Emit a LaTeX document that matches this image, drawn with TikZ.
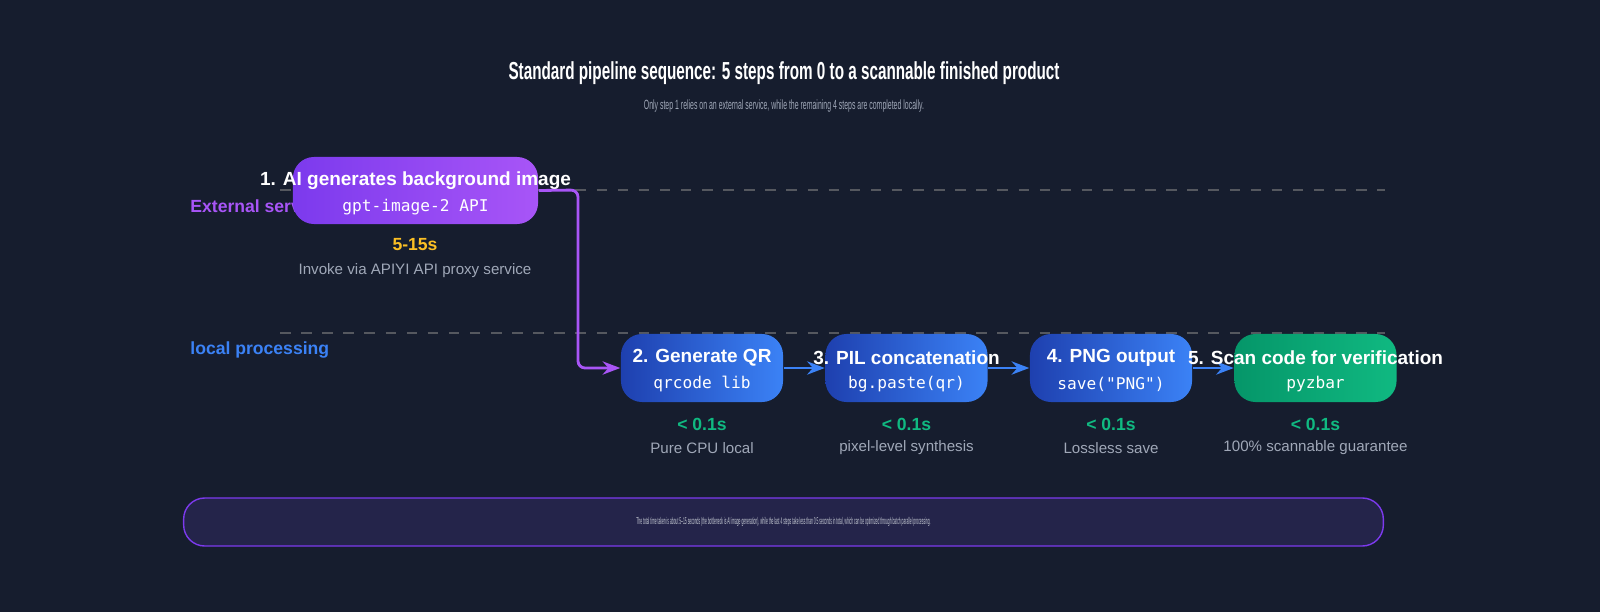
\documentclass[tikz,border=0pt]{standalone}
\usepackage{fontspec}
\setmainfont{Liberation Sans}
\setmonofont{DejaVu Sans Mono}
\usetikzlibrary{positioning,arrows.meta}
\definecolor{bgcol}{RGB}{22,29,46}
\definecolor{purpleA}{RGB}{124,58,237}
\definecolor{purpleB}{RGB}{168,85,247}
\definecolor{blueA}{RGB}{30,64,175}
\definecolor{blueB}{RGB}{59,130,246}
\definecolor{greenA}{RGB}{5,150,105}
\definecolor{greenB}{RGB}{16,185,129}
\definecolor{timecol}{RGB}{251,191,36}
\definecolor{greycol}{RGB}{160,168,184}
\definecolor{footfill}{RGB}{36,36,74}
\tikzset{
  stage/.style={rounded corners=6pt,minimum width=1.62cm,minimum height=0.68cm,
    left color=blueA,right color=blueB,draw=none},
  stagetitle/.style={text=white,font=\bfseries\fontsize{5.4}{6}\selectfont},
  stagecode/.style={text=white,font=\ttfamily\fontsize{4.6}{5}\selectfont},
  time/.style={text=greenB,font=\bfseries\fontsize{5}{6}\selectfont},
  desc/.style={text=greycol,font=\fontsize{4.3}{5}\selectfont},
  arrow/.style={thick,->,>={Stealth[length=5pt]},draw=blueB},
  lane/.style={dashed,draw=gray!60!bgcol}
}
\begin{document}
\begin{tikzpicture}[x=0.01cm,y=-0.01cm]
  % background
  \fill[bgcol] (0,0) rectangle (1600,612);
  \useasboundingbox (0,0) rectangle (1600,612);
  % heading
  \node[text=white,font=\bfseries\fontsize{7}{9}\selectfont] (title) at (784,73)
    {\scalebox{0.62}[1]{Standard pipeline sequence: 5 steps from 0 to a scannable finished product}};
  \node[text=greycol,font=\fontsize{3.8}{4}\selectfont] (subtitle) at (784,106)
    {\scalebox{0.52}[1]{Only step 1 relies on an external service, while the remaining 4 steps are completed locally.}};
  % lanes
  \draw[lane] (280,190) -- (1385,190);
  \draw[lane] (280,333) -- (1385,333);
  \node[anchor=west,text=purpleB,font=\bfseries\fontsize{5}{6}\selectfont] (extlbl) at (178,206) {External service};
  \node[anchor=west,text=blueB,font=\bfseries\fontsize{5}{6}\selectfont] (loclbl) at (178,350) {local processing};
  % stage 1
  \node[stage,left color=purpleA,right color=purpleB,minimum width=2.45cm,minimum height=0.67cm] (ai) at (415.5,190.5) {};
  \node[stagetitle] at (415.5,181) {1. AI generates background image};
  \node[stagecode] at (415.5,207) {gpt-image-2 API};
  \node[text=timecol,font=\bfseries\fontsize{5}{6}\selectfont] at (415,245) {5-15s};
  \node[desc] at (415,271) {Invoke via APIYI API proxy service};
  % local stages
  \node[stage] (qr) at (702,368) {};
  \node[stage] (pil) at (906.5,368) {};
  \node[stage] (png) at (1111,368) {};
  \node[stage,left color=greenA,right color=greenB] (scan) at (1315.5,368) {};
  % arrows
  \draw[arrow,draw=purpleB,rounded corners=2pt] (ai.east) -- (578,190) -- (578,368) -- (qr.west);
  \draw[arrow] (qr.east) -- (pil.west);
  \draw[arrow] (pil.east) -- (png.west);
  \draw[arrow] (png.east) -- (scan.west);
  \foreach \n/\t/\c/\d in {qr/2. Generate QR/qrcode lib/Pure CPU local,
      pil/3. PIL concatenation/bg.paste(qr)/pixel-level synthesis,
      png/4. PNG output/save("PNG")/Lossless save,
      scan/5. Scan code for verification/pyzbar/100\% scannable guarantee}{
    \node[stagetitle] at ([yshift=0.1cm]\n) {\t};
    \node[stagecode] at ([yshift=-0.16cm]\n) {\c};
    \node[time] at ([yshift=-0.56cm]\n) {< 0.1s};
    \node[desc] at ([yshift=-0.8cm]\n) {\d};
  }
  % footer
  \node[rounded corners=6pt,draw=purpleA,fill=footfill,minimum width=11.99cm,minimum height=0.48cm,
    text=greycol!60!white,font=\fontsize{2.8}{3}\selectfont] (foot) at (783.5,522)
    {\scalebox{0.34}[1]{The total time taken is about 5--15 seconds (the bottleneck is AI image generation), while the last 4 steps take less than 0.5 seconds in total, which can be optimized through batch parallel processing.}};
\end{tikzpicture}
\end{document}
